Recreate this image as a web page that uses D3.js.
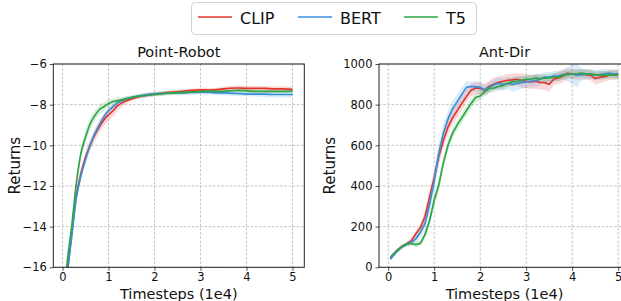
<!DOCTYPE html>
<html><head><meta charset="utf-8">
<script src="https://cdn.jsdelivr.net/npm/d3@7"></script>
<style>body{margin:0;background:#fff}svg{display:block}text{font-family:"DejaVu Sans",sans-serif;fill:#111}</style>
</head><body><svg id="c" width="621" height="301"></svg>
<script>
const seriesNames = ["CLIP", "BERT", "T5"];
const seriesColors = ["#e3342b", "#3a8ed8", "#2ea547"];

// Point-Robot
const prX = [0.05,0.1,0.2,0.3,0.4,0.5,0.6,0.7,0.8,0.9,1.0,1.1,1.2,1.3,1.4,1.5,1.6,1.8,2.0,2.2,2.4,2.6,2.8,3.0,3.2,3.4,3.6,3.8,4.0,4.2,4.4,4.6,4.8,5.0];
const prCLIP = [-17.5,-16.4,-14.3,-12.5,-11.4,-10.6,-10.0,-9.5,-9.1,-8.75,-8.5,-8.3,-8.05,-7.9,-7.8,-7.72,-7.65,-7.55,-7.48,-7.43,-7.38,-7.35,-7.3,-7.27,-7.28,-7.25,-7.2,-7.18,-7.2,-7.2,-7.2,-7.22,-7.22,-7.25];
const prBERT = [-17.5,-16.4,-14.5,-12.6,-11.5,-10.7,-10.0,-9.45,-9.0,-8.6,-8.3,-8.1,-7.9,-7.8,-7.7,-7.65,-7.6,-7.52,-7.47,-7.45,-7.42,-7.42,-7.4,-7.38,-7.4,-7.42,-7.43,-7.45,-7.47,-7.48,-7.48,-7.5,-7.5,-7.5];
const prT5 = [-17.0,-15.8,-14.0,-11.9,-10.4,-9.6,-8.95,-8.55,-8.25,-8.1,-7.95,-7.85,-7.8,-7.75,-7.7,-7.65,-7.6,-7.55,-7.5,-7.45,-7.42,-7.4,-7.37,-7.35,-7.33,-7.35,-7.33,-7.3,-7.32,-7.35,-7.35,-7.35,-7.35,-7.33];
const prCLIPsd = [0.3,0.3,0.3,0.3,0.3,0.3,0.3,0.3,0.3,0.3,0.3,0.3,0.25,0.2,0.15,0.12,0.1,0.1,0.1,0.1,0.1,0.1,0.1,0.1,0.1,0.1,0.1,0.12,0.12,0.12,0.12,0.12,0.12,0.12];
const prBERTsd = [0.2,0.2,0.2,0.2,0.2,0.2,0.15,0.15,0.15,0.15,0.12,0.12,0.1,0.1,0.1,0.1,0.1,0.1,0.1,0.1,0.1,0.1,0.1,0.1,0.1,0.1,0.12,0.12,0.12,0.12,0.15,0.15,0.15,0.15];
const prT5sd = [0.3,0.3,0.3,0.3,0.3,0.3,0.3,0.25,0.25,0.2,0.2,0.15,0.15,0.12,0.12,0.1,0.1,0.1,0.1,0.1,0.1,0.1,0.1,0.1,0.1,0.1,0.1,0.1,0.1,0.1,0.1,0.1,0.1,0.1];

// Ant-Dir
const adX = [0.05,0.1,0.2,0.3,0.4,0.5,0.6,0.7,0.8,0.9,
             1.0,1.1,1.2,1.3,1.4,1.5,1.6,1.7,1.8,1.9,
             2.0,2.1,2.2,2.3,2.4,2.5,2.6,2.7,2.8,2.9,
             3.0,3.1,3.2,3.3,3.4,3.5,3.6,3.7,3.8,3.9,
             4.0,4.1,4.2,4.3,4.4,4.5,4.6,4.7,4.8,4.9,5.0];
const adCLIP = [45,60,85,102,115,130,165,195,250,345,
                440,545,625,690,735,770,805,840,870,882,
                880,872,890,902,910,915,920,922,925,918,
                915,912,915,910,908,900,925,932,940,955,
                950,948,950,948,945,928,935,938,945,948,945];
const adBERT = [40,55,80,100,113,122,140,172,215,310,
                425,560,660,730,780,815,850,885,890,888,
                885,872,885,898,905,900,905,900,905,910,
                912,915,918,925,935,935,940,942,948,950,
                952,945,948,950,950,945,948,952,955,950,952];
const adT5 = [50,62,85,103,114,117,112,118,160,230,
              330,405,515,600,660,700,735,770,805,835,
              842,865,880,882,890,895,905,912,915,920,
              925,925,930,928,930,932,935,935,945,948,
              950,952,955,952,950,948,945,945,945,948,945];
const adCLIPsd = [8,8,10,10,10,12,15,20,30,35,
                  40,40,40,35,35,35,35,30,30,30,
                  30,30,30,30,30,30,30,30,30,35,
                  35,35,35,35,35,35,30,30,30,25,
                  25,25,25,25,25,30,30,25,25,25,25];
const adBERTsd = [8,8,10,10,12,15,20,25,35,45,
                  50,50,45,40,40,35,35,30,25,25,
                  25,25,25,25,30,30,30,35,35,30,
                  30,30,30,30,25,25,25,25,25,35,
                  50,60,30,25,25,25,25,25,20,20,20];
const adT5sd = [8,8,8,8,8,10,12,15,20,25,
                30,30,30,30,25,25,25,25,25,25,
                20,20,20,20,20,20,20,20,20,20,
                20,20,20,20,20,20,20,20,20,20,
                20,20,20,20,20,20,20,20,20,20,20];

const xTicks = [0,1,2,3,4,5];
const prYTicks = [-16,-14,-12,-10,-8,-6];
const adYTicks = [0,200,400,600,800,1000];

const svg = d3.select("#c");

function panel(opts) {
  const {x0, x1, y0, y1, xDom, yDom, yTicks, title, xs, ys, sds, curve, id, labelX} = opts;
  const x = d3.scaleLinear().domain(xDom).range([x0, x1]);
  const y = d3.scaleLinear().domain(yDom).range([y1, y0]);
  const g = svg.append("g");
  g.append("clipPath").attr("id", id).append("rect")
    .attr("x", x0).attr("y", y0).attr("width", x1 - x0).attr("height", y1 - y0);
  const grid = g.append("g").attr("stroke", "#b5b5b5").attr("stroke-width", 0.8).attr("stroke-dasharray", "2.6,1.6");
  xTicks.forEach(t => grid.append("line").attr("x1", x(t)).attr("x2", x(t)).attr("y1", y0).attr("y2", y1));
  yTicks.forEach(t => grid.append("line").attr("x1", x0).attr("x2", x1).attr("y1", y(t)).attr("y2", y(t)));
  const plot = g.append("g").attr("clip-path", `url(#${id})`);
  ys.forEach((vals, i) => {
    const data = xs.map((xv, j) => ({x: xv, y: vals[j], s: sds[i][j]}));
    const area = d3.area().x(d => x(d.x)).y0(d => y(d.y - d.s)).y1(d => y(d.y + d.s)).curve(curve);
    plot.append("path").datum(data).attr("d", area).attr("fill", seriesColors[i]).attr("fill-opacity", 0.18);
  });
  ys.forEach((vals, i) => {
    const data = xs.map((xv, j) => ({x: xv, y: vals[j]}));
    const line = d3.line().x(d => x(d.x)).y(d => y(d.y)).curve(curve);
    plot.append("path").datum(data).attr("d", line).attr("fill", "none")
      .attr("stroke", seriesColors[i]).attr("stroke-width", 1.7);
  });
  const xa = g.append("g").attr("transform", `translate(0,${y1})`)
    .call(d3.axisBottom(x).tickValues(xTicks).tickSize(3.5).tickPadding(2.5).tickFormat(d3.format("d")));
  const ya = g.append("g").attr("transform", `translate(${x0},0)`)
    .call(d3.axisLeft(y).tickValues(yTicks).tickSize(3.5).tickPadding(3).tickFormat(d => d < 0 ? "\u2212" + Math.abs(d) : d));
  [xa, ya].forEach(a => {
    a.select(".domain").remove();
    a.selectAll("line").attr("stroke", "#222").attr("stroke-width", 0.8);
    a.selectAll("text").attr("font-size", 11.5).attr("fill", "#111").style("font-family", "DejaVu Sans");
  });
  g.append("rect").attr("x", x0).attr("y", y0).attr("width", x1 - x0).attr("height", y1 - y0)
    .attr("fill", "none").attr("stroke", "#222").attr("stroke-width", 1);
  g.append("text").attr("x", (x0 + x1) / 2).attr("y", y0 - 7).attr("text-anchor", "middle")
    .attr("font-size", 14.5).text(title);
  g.append("text").attr("x", (x0 + x1) / 2).attr("y", 298.5).attr("text-anchor", "middle")
    .attr("font-size", 14.5).text("Timesteps (1e4)");
  g.append("text").attr("transform", `translate(${labelX},${(y0 + y1) / 2}) rotate(-90)`)
    .attr("text-anchor", "middle").attr("font-size", 15).text("Returns");
}

panel({x0: 53.3, x1: 304.3, y0: 64, y1: 267.3, xDom: [-0.2, 5.257], yDom: [-16, -6], yTicks: prYTicks,
  title: "Point-Robot", xs: prX, ys: [prCLIP, prBERT, prT5], sds: [prCLIPsd, prBERTsd, prT5sd],
  curve: d3.curveMonotoneX, id: "cp1", labelX: 20});
panel({x0: 379, x1: 630, y0: 64, y1: 267.3, xDom: [-0.2, 5.257], yDom: [0, 1000], yTicks: adYTicks,
  title: "Ant-Dir", xs: adX, ys: [adCLIP, adBERT, adT5], sds: [adCLIPsd, adBERTsd, adT5sd],
  curve: d3.curveLinear, id: "cp2", labelX: 335});

const lg = svg.append("g");
lg.append("rect").attr("x", 191.5).attr("y", 2.5).attr("width", 285).attr("height", 32).attr("rx", 4)
  .attr("fill", "#fff").attr("stroke", "#d0d0d0").attr("stroke-width", 1);
const lx = [198, 298, 404];
seriesNames.forEach((n, i) => {
  lg.append("line").attr("x1", lx[i]).attr("x2", lx[i] + 34).attr("y1", 17).attr("y2", 17)
    .attr("stroke", seriesColors[i]).attr("stroke-width", 1.7);
  lg.append("text").attr("x", lx[i] + 42).attr("y", 23.5).attr("font-size", 16).text(n);
});
</script></body></html>
